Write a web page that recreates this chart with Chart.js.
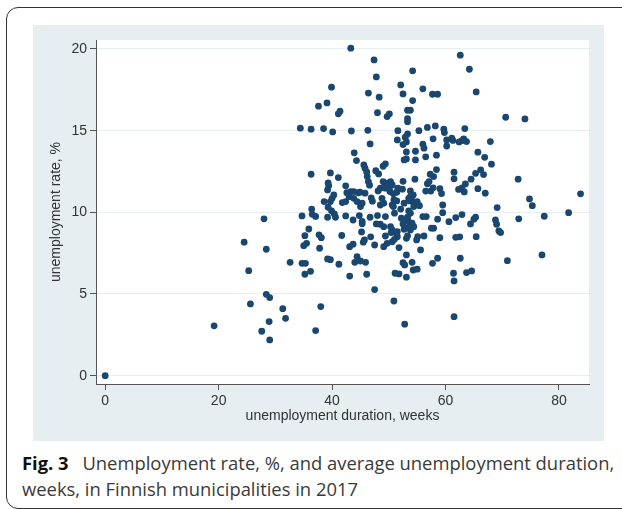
<!DOCTYPE html>
<html>
<head>
<meta charset="utf-8">
<script src="https://cdn.jsdelivr.net/npm/chart.js@4/dist/chart.umd.min.js"></script>
<style>
    html, body { margin: 0; padding: 0; background: #fff; width: 622px; height: 509px; overflow: hidden; }
    #frame { position: absolute; left: 6px; top: 7px; width: 680px; height: 500px; border: 1.3px solid #333; border-radius: 12px; }
    #panel { position: absolute; left: 33px; top: 25px; width: 571px; height: 416px; background: #e6eef1; }
    #chart { position: absolute; left: 33px; top: 25px; }
    #caption { position: absolute; left: 22px; top: 450px; width: 600px; font-family: "Open Sans"; font-size: 18.4px; line-height: 26px; color: #3a3a3a; white-space: nowrap; }
    #caption b { color: #111; font-weight: 700; margin-right: 9px; }
</style>
</head>
<body>
<div id="frame"></div>
<div id="panel"></div>
<canvas id="chart" width="571" height="416"></canvas>
<div id="caption"><b>Fig. 3</b> Unemployment rate, %, and average unemployment duration,<br>weeks, in Finnish municipalities in 2017</div>
<script>
const xTitle = 'unemployment duration, weeks';
const yTitle = 'unemployment rate, %';
const xTicks = [0, 20, 40, 60, 80];
const yTicks = [0, 5, 10, 15, 20];

// average unemployment duration, weeks (one value per municipality)
const durationWeeks = [
    // low / left
    0, 19.2, 24.5, 25.3, 25.6, 27.6, 28.0, 28.4, 28.4, 29.0, 28.9, 29.0, 31.3, 31.8, 32.6, 34.7, 35.3, 35.2,
    36.2, 37.1, 38.0, 39.2, 39.7, 41.2, 43.1, 44.0, 44.4, 45.0, 45.9, 46.1, 47.5, 50.9, 52.8, 61.5, 51.1, 51.8,
    53.1, 54.3, 55.0, 52.5, 52.8, 54.1, 53.1, 57.7, 58.6, 55.6, 51.8, 61.4, 61.5, 62.6, 63.7, 64.6, 70.9, 77.0,
    // 8 - 9.5 %
    35.0, 35.5, 35.2, 35.9, 37.8, 37.7, 38.1, 41.7, 43.1, 43.7, 45.5, 45.7, 45.2, 46.8, 47.5, 49.1, 49.7, 50.6,
    51.0, 51.5, 51.4, 51.5, 50.4, 50.6, 49.4, 48.5, 49.1, 50.3, 47.8, 45.3, 52.7, 53.3, 53.8, 54.1, 53.4, 52.5,
    53.1, 53.8, 54.4, 53.3, 54.9, 55.1, 56.2, 57.5, 57.9, 59.0, 61.8, 62.5, 64.4, 65.4, 69.0, 69.4, 69.7, 60.6,
    // 9.5 - 11 %
    34.7, 36.4, 36.5, 37.1, 38.6, 39.3, 39.9, 40.4, 39.2, 40.6, 42.4, 43.7, 44.8, 45.3, 46.7, 48.0, 49.4, 51.0,
    52.2, 53.3, 53.1, 53.8, 53.5, 52.1, 56.0, 56.6, 58.6, 59.5, 61.8, 62.9, 65.0, 65.3, 68.8, 72.9, 77.4, 81.7,
    39.7, 40.0, 40.3, 41.8, 42.4, 43.0, 43.8, 44.4, 45.0, 45.3, 46.9, 47.1, 48.8, 48.5, 49.1, 50.9, 51.4, 50.6,
    50.8, 52.7, 53.7, 54.0, 54.4, 55.0, 55.4, 54.4, 53.8, 53.5, 54.3, 59.5, 69.1, 75.3, 74.8, 83.8,
    // 11 - 12 %
    39.2, 39.4, 39.3, 42.4, 42.6, 43.3, 43.8, 44.6, 44.9, 45.8, 46.4, 46.6, 48.1, 48.5, 49.4, 50.2, 50.8, 51.4,
    51.6, 50.1, 49.0, 49.3, 49.7, 50.3, 50.6, 52.5, 52.4, 53.8, 54.6, 56.5, 57.4, 57.8, 57.1, 56.8, 59.0, 59.3,
    62.3, 62.9, 63.3, 63.5, 65.7, 67.0, 64.5, 72.8, 61.5,
    // 12 - 14 %
    36.3, 39.7, 41.1, 46.2, 46.1, 45.6, 45.8, 47.7, 48.2, 49.0, 49.4, 57.3, 57.9, 58.4, 61.5, 65.3, 66.2, 66.7,
    68.1, 44.3, 43.9, 53.1, 52.7, 54.7, 56.5, 58.4, 53.1, 54.7, 66.9, 65.7,
    // 14 - 15.3 %
    56.0, 56.2, 57.8, 52.5, 53.1, 52.9, 53.3, 51.5, 51.6, 55.3, 56.8, 58.2, 59.7, 59.8, 60.2, 60.2, 61.1, 61.3,
    62.4, 62.9, 63.2, 63.7, 63.4, 67.9, 46.7, 34.4, 36.3, 38.5, 40.1, 43.4, 46.3,
    // top
    37.6, 39.1, 39.9, 41.1, 41.4, 43.3, 46.4, 47.4, 47.8, 48.3, 48.0, 49.7, 50.1, 54.2, 52.1, 52.5, 56.0, 57.7,
    58.6, 54.2, 53.3, 53.8, 53.3, 53.3, 62.6, 64.2, 65.4, 70.6, 74.0,
];

// unemployment rate, % (same order)
const unemploymentRate = [
    0, 3.05, 8.17, 6.43, 4.39, 2.72, 9.6, 7.74, 4.98, 4.78, 3.31, 2.19, 4.1, 3.51, 6.94, 6.88, 6.88, 6.21,
    6.39, 2.76, 4.23, 7.15, 7.1, 6.82, 6.1, 6.94, 7.29, 7.02, 6.94, 6.21, 5.27, 4.57, 3.15, 3.61, 6.27, 6.23,
    6.03, 6.47, 6.52, 6.92, 6.78, 6.94, 7.39, 6.88, 7.19, 7.7, 7.84, 6.27, 5.8, 7.19, 6.31, 6.41, 7.04, 7.39,

    7.96, 8.1, 8.57, 8.98, 7.8, 8.62, 8.45, 8.58, 7.9, 8.05, 8.17, 8.31, 8.8, 8.5, 8.0, 7.9, 8.1, 8.2,
    8.35, 8.51, 8.62, 8.82, 8.76, 8.92, 8.55, 9.27, 9.12, 9.12, 9.29, 9.3, 8.96, 9.06, 9.17, 9.33, 9.47, 9.29,
    8.41, 8.92, 9.12, 8.55, 8.31, 8.51, 8.55, 9.03, 9.03, 8.45, 8.47, 8.5, 9.29, 8.51, 9.27, 8.86, 8.76, 9.43,

    9.78, 10.2, 9.88, 9.75, 10.66, 10.31, 10.09, 9.9, 9.7, 9.7, 9.78, 9.53, 9.8, 9.45, 9.7, 9.8, 9.74, 9.95,
    9.64, 9.7, 9.53, 9.95, 10.09, 10.2, 9.74, 9.74, 9.58, 9.98, 9.68, 9.86, 9.58, 9.7, 9.53, 9.6, 9.76, 9.98,
    10.66, 10.86, 11.06, 10.6, 10.66, 10.96, 10.86, 10.66, 10.35, 10.56, 10.88, 10.68, 10.86, 10.45, 10.56, 10.76, 10.7, 10.45,
    10.35, 10.56, 10.7, 10.76, 10.56, 10.66, 10.41, 10.35, 10.96, 10.86, 11.06, 10.45, 10.29, 10.41, 10.82, 11.13,

    11.37, 11.62, 11.8, 11.62, 11.2, 11.27, 11.27, 11.2, 11.23, 11.17, 11.88, 11.66, 11.31, 11.48, 11.48, 11.27, 11.13, 11.23,
    11.48, 11.5, 11.88, 11.68, 11.78, 11.88, 11.68, 11.9, 11.42, 11.31, 12.03, 11.3, 11.3, 11.5, 11.88, 11.75, 11.45, 11.15,
    11.4, 11.5, 11.25, 11.74, 11.45, 11.17, 12.03, 12.03, 12.05,

    12.33, 12.41, 12.13, 12.19, 12.47, 12.9, 12.7, 12.55, 12.35, 12.82, 12.97, 12.33, 12.19, 12.62, 12.46, 12.39, 12.6, 12.31,
    12.95, 13.17, 13.64, 13.27, 13.21, 13.21, 13.4, 13.5, 13.7, 13.74, 13.37, 13.68,

    14.17, 13.93, 14.5, 14.15, 14.31, 14.6, 14.8, 14.43, 15.0, 15.0, 15.2, 15.29, 15.09, 14.88, 14.43, 14.06, 14.54, 14.4,
    14.31, 14.39, 14.5, 14.33, 15.13, 14.33, 14.19, 15.15, 15.09, 15.13, 14.92, 14.98, 15.02,

    16.5, 16.7, 17.66, 16.03, 16.19, 20.05, 17.3, 19.33, 18.29, 17.05, 16.1, 15.86, 16.03, 18.66, 17.8, 17.25, 17.56, 17.23,
    17.23, 16.84, 16.25, 16.25, 15.74, 15.55, 19.62, 18.76, 17.37, 15.82, 15.72,
];

const points = durationWeeks.map((x, i) => ({ x: x, y: unemploymentRate[i] }));

const tickFont = { family: '"Liberation Sans", Arial, sans-serif', size: 14 };

// white plot region inside the grey Stata panel
const plotBackground = {
    id: 'plotBackground',
    beforeDraw(chart) {
        const { ctx, chartArea: a } = chart;
        ctx.save();
        ctx.fillStyle = '#ffffff';
        ctx.fillRect(a.left, a.top, a.right - a.left, a.bottom - a.top);
        ctx.restore();
    },
};

new Chart(document.getElementById('chart'), {
    type: 'scatter',
    data: {
        datasets: [
            {
                data: points,
                backgroundColor: '#1a476f',
                borderWidth: 0,
                pointRadius: 3.4,
                pointHoverRadius: 3.4,
            },
        ],
    },
    options: {
        responsive: false,
        animation: false,
        events: [],
        layout: { padding: { top: 15, right: 15, left: 0, bottom: 0 } },
        plugins: { legend: { display: false }, tooltip: { enabled: false } },
        scales: {
            x: {
                type: 'linear',
                min: -1.62,
                max: 85.29,
                afterFit: s => { s.height = 57; },
                afterBuildTicks: s => { s.ticks = xTicks.map(v => ({ value: v })); },
                border: { display: true, color: '#555', width: 1 },
                grid: { drawOnChartArea: false, tickLength: 6, tickColor: '#555', tickWidth: 1 },
                ticks: { padding: 3, color: '#333', font: tickFont, maxRotation: 0, autoSkip: false },
                title: { display: true, text: xTitle, color: '#333', font: tickFont, padding: { top: 0, bottom: 16.6 } },
            },
            y: {
                type: 'linear',
                min: -0.51,
                max: 20.55,
                afterFit: s => { s.width = 63; },
                afterBuildTicks: s => { s.ticks = yTicks.map(v => ({ value: v })); },
                border: { display: true, color: '#555', width: 1 },
                grid: { color: '#e8eff2', lineWidth: 1, tickLength: 6, tickColor: '#555', tickWidth: 1 },
                ticks: { padding: 3, color: '#333', font: tickFont, autoSkip: false },
                title: { display: true, text: yTitle, color: '#333', font: tickFont, padding: { top: 15, bottom: 0 } },
            },
        },
    },
    plugins: [plotBackground],
});
</script>
</body>
</html>
